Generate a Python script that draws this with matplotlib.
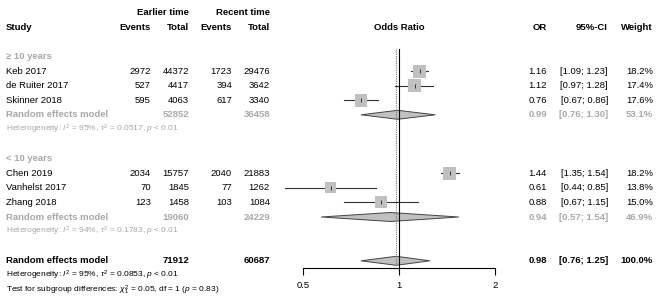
import numpy as np
import matplotlib.pyplot as plt

plt.rcParams['font.family'] = ['Liberation Sans', 'DejaVu Sans']
plt.rcParams['mathtext.fontset'] = 'custom'
plt.rcParams['mathtext.rm'] = 'Liberation Sans'
plt.rcParams['mathtext.it'] = 'Liberation Sans:italic'
plt.rcParams['mathtext.bf'] = 'Liberation Sans:bold'

# data
groups = ["\u2265 10 years", "< 10 years"]
studies = [["Keb 2017", "de Ruiter 2017", "Skinner 2018"],
           ["Chen 2019", "Vanhelst 2017", "Zhang 2018"]]
events_early = [[2972, 527, 595], [2034, 70, 123]]
total_early = [[44372, 4417, 4063], [15757, 1845, 1458]]
events_recent = [[1723, 394, 617], [2040, 77, 103]]
total_recent = [[29476, 3642, 3340], [21883, 1262, 1084]]
odds = [[1.16, 1.12, 0.76], [1.44, 0.61, 0.88]]
ci_lo = [[1.09, 0.97, 0.67], [1.35, 0.44, 0.67]]
ci_hi = [[1.23, 1.28, 0.86], [1.54, 0.85, 1.15]]
weight = [[18.2, 17.4, 17.6], [18.2, 13.8, 15.0]]

sub_or = [0.99, 0.94]
sub_lo = [0.76, 0.57]
sub_hi = [1.30, 1.54]
sub_w = [53.1, 46.9]
sub_tot_early = [52852, 19060]
sub_tot_recent = [36458, 24229]
sub_het = [r"Heterogeneity: $I^2$ = 95%, $\tau^2$ = 0.0517, $p$ < 0.01",
           r"Heterogeneity: $I^2$ = 94%, $\tau^2$ = 0.1783, $p$ < 0.01"]

all_or, all_lo, all_hi = 0.98, 0.76, 1.25
all_tot_early, all_tot_recent = 71912, 60687
all_het = r"Heterogeneity: $I^2$ = 95%, $\tau^2$ = 0.0853, $p$ < 0.01"
subgroup_test = r"Test for subgroup differences: $\chi^2_1$ = 0.05, df = 1 ($p$ = 0.83)"

ticks = [0.5, 1, 2]

GREY = "#a8a8a8"
FILL = "#c0c0c0"
FS = 6.8
FS_SMALL = 6.0

W, H = 660, 305
fig = plt.figure(figsize=(W / 100, H / 100), dpi=100)
ax = fig.add_axes([0, 0, 1, 1])
ax.set_xlim(0, W)
ax.set_ylim(H, 0)
ax.axis("off")

# forest panel: log scale, 0.5 at px 303, 2 at px 495
x_left, x_right, px_per_oct, px_one = 250, 560, 96, 399
y_axis = 268
fx = fig.add_axes([x_left / W, 1 - y_axis / H, (x_right - x_left) / W, y_axis / H])
fx.set_xscale("log")
fx.set_xlim(2 ** ((x_left - px_one) / px_per_oct), 2 ** ((x_right - px_one) / px_per_oct))
fx.set_ylim(y_axis, 0)
fx.patch.set_visible(False)
for s in ["top", "left", "right"]:
    fx.spines[s].set_visible(False)
fx.spines["bottom"].set_bounds(ticks[0], ticks[-1])
fx.spines["bottom"].set_linewidth(0.8)
fx.set_yticks([])
fx.set_xticks(ticks)
fx.set_xticklabels(["0.5", "1", "2"])
fx.minorticks_off()
fx.tick_params(axis="x", length=5, width=0.8, pad=4, labelsize=FS)

step = 14.6
y0 = 71


def row(k):
    return y0 + k * step


# column x positions (right edges)
x_study = 6
x_ev_e, x_tot_e, x_ev_r, x_tot_r = 151, 189, 232, 270
x_or, x_ci, x_w = 547, 608, 653


def txt(x, y, s, ha="left", color="black", bold=False, size=FS):
    ax.text(x, y, s, ha=ha, va="center", color=color, fontsize=size,
            fontweight="bold" if bold else "normal")


# headers
txt(x_tot_e, row(-4), "Earlier time", ha="right", bold=True)
txt(x_tot_r, row(-4), "Recent time", ha="right", bold=True)
txt(x_study, row(-3), "Study", bold=True)
for xx, s in [(x_ev_e, "Events"), (x_tot_e, "Total"), (x_ev_r, "Events"), (x_tot_r, "Total"),
              (x_or, "OR"), (x_ci, "95%-CI"), (x_w, "Weight")]:
    txt(xx, row(-3), s, ha="right", bold=True)
txt(px_one, row(-3), "Odds Ratio", ha="center", bold=True)


def diamond(y, est, lo, hi, half=4.5):
    fx.fill([lo, est, hi, est], [y, y - half, y, y + half], facecolor=FILL,
            edgecolor="#444444", linewidth=0.7, zorder=2)


max_w = max(max(w) for w in weight)
for g in range(2):
    base = 7 * g
    txt(x_study, row(base - 1), groups[g], color=GREY, bold=True)
    for i in range(3):
        y = row(base + i)
        txt(x_study, y, studies[g][i])
        txt(x_ev_e, y, str(events_early[g][i]), ha="right")
        txt(x_tot_e, y, str(total_early[g][i]), ha="right")
        txt(x_ev_r, y, str(events_recent[g][i]), ha="right")
        txt(x_tot_r, y, str(total_recent[g][i]), ha="right")
        txt(x_or, y, f"{odds[g][i]:.2f}", ha="right")
        txt(x_ci, y, f"[{ci_lo[g][i]:.2f}; {ci_hi[g][i]:.2f}]", ha="right")
        txt(x_w, y, f"{weight[g][i]:.1f}%", ha="right")
        fx.plot([ci_lo[g][i], ci_hi[g][i]], [y, y], color="#333333", lw=0.8, zorder=3)
        side = 13 * np.sqrt(weight[g][i] / max_w) * 0.72
        fx.scatter([odds[g][i]], [y], marker="s", s=side ** 2, color=FILL,
                   edgecolors="none", zorder=4)
        fx.scatter([odds[g][i]], [y], marker="|", s=8, color="#333333",
                   linewidths=0.7, zorder=5)
    y = row(base + 3)
    txt(x_study, y, "Random effects model", color=GREY, bold=True)
    txt(x_tot_e, y, str(sub_tot_early[g]), ha="right", color=GREY, bold=True)
    txt(x_tot_r, y, str(sub_tot_recent[g]), ha="right", color=GREY, bold=True)
    txt(x_or, y, f"{sub_or[g]:.2f}", ha="right", color=GREY, bold=True)
    txt(x_ci, y, f"[{sub_lo[g]:.2f}; {sub_hi[g]:.2f}]", ha="right", color=GREY, bold=True)
    txt(x_w, y, f"{sub_w[g]:.1f}%", ha="right", color=GREY, bold=True)
    diamond(y, sub_or[g], sub_lo[g], sub_hi[g])
    txt(x_study, row(base + 4), sub_het[g], color=GREY, size=FS_SMALL)

y = row(13)
txt(x_study, y, "Random effects model", bold=True)
txt(x_tot_e, y, str(all_tot_early), ha="right", bold=True)
txt(x_tot_r, y, str(all_tot_recent), ha="right", bold=True)
txt(x_or, y, f"{all_or:.2f}", ha="right", bold=True)
txt(x_ci, y, f"[{all_lo:.2f}; {all_hi:.2f}]", ha="right", bold=True)
txt(x_w, y, "100.0%", ha="right", bold=True)
diamond(y, all_or, all_lo, all_hi)
txt(x_study, row(14), all_het, size=FS_SMALL)
txt(x_study, row(15), subgroup_test, size=FS_SMALL)

# reference lines
fx.plot([1, 1], [49, y_axis], color="black", lw=0.8, zorder=6)
fx.plot([all_or, all_or], [49, y_axis - 3], color="#777777", lw=0.8, ls=(0, (1, 1)), zorder=6)

fig.savefig("out.png", dpi=100)
